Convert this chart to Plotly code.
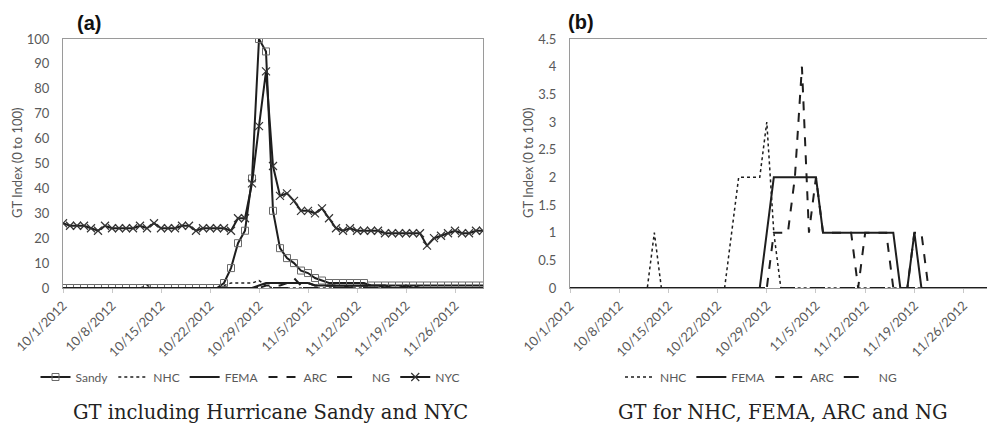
import pandas as pd
import plotly.graph_objects as go

dates = [d.strftime("%Y-%m-%d") for d in pd.date_range("2012-10-01", "2012-11-30", freq="D")]

sandy = [0, 0, 0, 0, 0, 0, 0, 0, 0, 0, 0, 0, 0, 0, 0, 0, 0, 0, 0, 0,
         0, 0, 0, 2, 8, 18, 23, 44, 100, 95, 31, 16, 12, 10, 7, 6, 4, 3, 2, 2,
         2, 2, 2, 2, 1, 1, 1, 1, 1, 1, 1, 1, 1, 1, 1, 1, 1, 1, 1, 1, 1]
nhc = [0, 0, 0, 0, 0, 0, 0, 0, 0, 0, 0, 0, 1, 0, 0, 0, 0, 0, 0, 0,
       0, 0, 0, 1, 2, 2, 2, 2, 3, 1, 0, 0, 0, 0, 0, 0, 0, 0, 0, 0,
       0, 0, 0, 0, 0, 0, 0, 0, 0, 0, 0, 0, 0, 0, 0, 0, 0, 0, 0, 0, 0]
fema = [0, 0, 0, 0, 0, 0, 0, 0, 0, 0, 0, 0, 0, 0, 0, 0, 0, 0, 0, 0,
        0, 0, 0, 0, 0, 0, 0, 0, 1, 2, 2, 2, 2, 2, 2, 2, 1, 1, 1, 1,
        1, 1, 1, 1, 1, 1, 1, 0, 0, 1, 0, 0, 0, 0, 0, 0, 0, 0, 0, 0, 0]
arc = [0, 0, 0, 0, 0, 0, 0, 0, 0, 0, 0, 0, 0, 0, 0, 0, 0, 0, 0, 0,
       0, 0, 0, 0, 0, 0, 0, 0, 0, 1, 1, 1, 2, 4, 1, 2, 1, 1, 1, 1,
       1, 0, 1, 1, 1, 1, 0, 0, 0, 1, 1, 0, 0, 0, 0, 0, 0, 0, 0, 0, 0]
ng = [0, 0, 0, 0, 0, 0, 0, 0, 0, 0, 0, 0, 0, 0, 0, 0, 0, 0, 0, 0,
      0, 0, 0, 0, 0, 0, 0, 0, 0, 0, 0, 0, 0, 0, 0, 0, 0, 0, 0, 0,
      0, 0, 0, 0, 0, 0, 0, 0, 0, 0, 0, 0, 0, 0, 0, 0, 0, 0, 0, 0, 0]
nyc = [26, 25, 25, 25, 24, 23, 25, 24, 24, 24, 24, 25, 24, 26, 24, 24, 24, 25, 25, 23,
       24, 24, 24, 24, 23, 28, 28, 42, 65, 87, 49, 37, 38, 35, 31, 31, 30, 32, 28, 24,
       23, 24, 23, 23, 23, 23, 22, 22, 22, 22, 22, 22, 17, 20, 21, 22, 23, 22, 22, 23, 23]

tick_dates = ["2012-10-01", "2012-10-08", "2012-10-15", "2012-10-22", "2012-10-29",
              "2012-11-05", "2012-11-12", "2012-11-19", "2012-11-26"]
tick_labels = ["10/1/2012", "10/8/2012", "10/15/2012", "10/22/2012", "10/29/2012",
               "11/5/2012", "11/12/2012", "11/19/2012", "11/26/2012"]
y_a_ticks = [0, 10, 20, 30, 40, 50, 60, 70, 80, 90, 100]
y_b_ticks = [0, 0.5, 1, 1.5, 2, 2.5, 3, 3.5, 4, 4.5]
y_b_labels = ["0", "0.5", "1", "1.5", "2", "2.5", "3", "3.5", "4", "4.5"]

W, H = 987, 428
LINE = "#1e1e1e"
GRAY = "#595959"
AX = "#9a9a9a"
FONT = "Lato"

fig = go.Figure()

# Panel (a)
fig.add_trace(go.Scatter(x=dates, y=sandy, name="Sandy", mode="lines+markers",
                         line=dict(color=LINE, width=2),
                         marker=dict(symbol="square-open", size=7, color="#6a6a6a", line=dict(width=1)),
                         xaxis="x", yaxis="y", legend="legend"))
fig.add_trace(go.Scatter(x=dates, y=nhc, name="NHC", mode="lines",
                         line=dict(color=LINE, width=1.5, dash="dot"),
                         xaxis="x", yaxis="y", legend="legend"))
fig.add_trace(go.Scatter(x=dates, y=fema, name="FEMA", mode="lines",
                         line=dict(color=LINE, width=2),
                         xaxis="x", yaxis="y", legend="legend"))
fig.add_trace(go.Scatter(x=dates, y=arc, name="ARC", mode="lines",
                         line=dict(color=LINE, width=2, dash="dash"),
                         xaxis="x", yaxis="y", legend="legend"))
fig.add_trace(go.Scatter(x=dates, y=ng, name="NG", mode="lines",
                         line=dict(color=LINE, width=2, dash="longdash"),
                         xaxis="x", yaxis="y", legend="legend"))
fig.add_trace(go.Scatter(x=dates, y=nyc, name="NYC", mode="lines+markers",
                         line=dict(color=LINE, width=2),
                         marker=dict(symbol="x-thin-open", size=8, color="#333333", line=dict(width=1.2)),
                         xaxis="x", yaxis="y", legend="legend"))

# Panel (b)
fig.add_trace(go.Scatter(x=dates, y=ng, name="NG", mode="lines",
                         line=dict(color=LINE, width=2, dash="longdash"),
                         xaxis="x2", yaxis="y2", legend="legend2", legendrank=4))
fig.add_trace(go.Scatter(x=dates, y=nhc, name="NHC", mode="lines",
                         line=dict(color=LINE, width=1.5, dash="dot"),
                         xaxis="x2", yaxis="y2", legend="legend2", legendrank=1))
fig.add_trace(go.Scatter(x=dates, y=fema, name="FEMA", mode="lines",
                         line=dict(color=LINE, width=2),
                         xaxis="x2", yaxis="y2", legend="legend2", legendrank=2))
fig.add_trace(go.Scatter(x=dates, y=arc, name="ARC", mode="lines",
                         line=dict(color=LINE, width=2, dash="dash"),
                         xaxis="x2", yaxis="y2", legend="legend2", legendrank=3))

ydom = [1 - 288 / H, 1 - 39 / H]
xcommon = dict(type="date", tickmode="array", tickvals=tick_dates, ticktext=tick_labels,
               tickangle=-45, tickfont=dict(family=FONT, size=13, color=GRAY),
               showline=True, linecolor=AX, linewidth=1, ticks="outside", ticklen=4,
               tickcolor="#c8c8c8", showgrid=False, zeroline=False, automargin=False)
ycommon = dict(tickfont=dict(family=FONT, size=13, color=GRAY), showline=True, linecolor=AX,
               linewidth=1, mirror=True, showgrid=False, zeroline=False, ticks="",
               ticklabelstandoff=10, automargin=False)

legfont = dict(family=FONT, size=12, color=GRAY)
fig.update_layout(
    width=W, height=H,
    margin=dict(l=0, r=0, t=0, b=0),
    paper_bgcolor="white", plot_bgcolor="white",
    xaxis=dict(domain=[63 / W, 483 / W], anchor="y", range=["2012-10-01", "2012-11-30"],
               mirror=True, **xcommon),
    yaxis=dict(domain=ydom, anchor="x", range=[0, 100], tickmode="array",
               tickvals=y_a_ticks, **ycommon),
    xaxis2=dict(domain=[570 / W, 1.0], anchor="y2",
                range=["2012-10-01", "2012-11-29 08:00"], mirror=True, **xcommon),
    yaxis2=dict(domain=ydom, anchor="x2", range=[0, 4.5], tickmode="array",
                tickvals=y_b_ticks, ticktext=y_b_labels, **ycommon),
    legend=dict(orientation="h", x=250 / W, y=1 - 377 / H, xanchor="center", yanchor="middle",
                font=legfont, bgcolor="rgba(0,0,0,0)", itemwidth=30),
    legend2=dict(orientation="h", x=761 / W, y=1 - 377 / H, xanchor="center", yanchor="middle",
                 font=legfont, bgcolor="rgba(0,0,0,0)", itemwidth=30, traceorder="normal"),
    showlegend=True,
)

ann = [
    dict(text="<b>(a)</b>", x=89 / W, y=1 - 23 / H, font=dict(family="Liberation Sans", size=20, color="#111")),
    dict(text="<b>(b)</b>", x=581 / W, y=1 - 22 / H, font=dict(family="Liberation Sans", size=20, color="#111")),
    dict(text="GT Index (0 to 100)", x=17 / W, y=1 - 163 / H, textangle=-90,
         font=dict(family=FONT, size=13, color=GRAY)),
    dict(text="GT Index (0 to 100)", x=528 / W, y=1 - 163 / H, textangle=-90,
         font=dict(family=FONT, size=13, color=GRAY)),
    dict(text="GT including Hurricane Sandy and NYC", x=270 / W, y=1 - 412 / H,
         font=dict(family="DejaVu Serif", size=19.5, color="#222")),
    dict(text="GT for NHC, FEMA, ARC and NG", x=783 / W, y=1 - 412 / H,
         font=dict(family="DejaVu Serif", size=19.5, color="#222")),
]
for a in ann:
    a.update(xref="paper", yref="paper", showarrow=False, xanchor="center", yanchor="middle")
fig.update_layout(annotations=ann)

fig.write_html("out.html", config={"displayModeBar": False},
               post_script="document.body.style.margin='0';document.body.style.padding='0';"
                           "document.body.style.overflow='hidden';")
